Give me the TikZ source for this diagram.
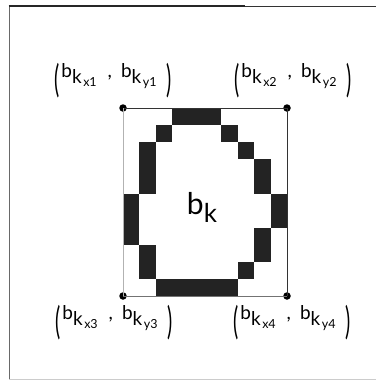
\documentclass[tikz,border=0pt]{standalone}
\usepackage{fontspec}
\setmainfont{Lato}
\usepackage{graphicx}
\usetikzlibrary{positioning}
\definecolor{cellink}{RGB}{35,35,35}
\definecolor{framegray}{RGB}{105,105,105}
\newcommand{\pixcell}[2]{\fill[cellink] ({123+#1*16.4},{108+#2*17.1}) rectangle ++(16.4,17.1);}
\newcommand{\subidx}[1]{b\raisebox{-5.5pt}{k\raisebox{-3pt}{\fontsize{12.5}{12.5}\selectfont\hspace{1.5pt}#1}}}
\newcommand{\tallparen}[1]{\raisebox{-15pt}{\scalebox{0.75}[1.45]{\fontsize{26}{26}\selectfont #1}}}
\newcommand{\cornerlabel}[2]{\tallparen{(}\hspace{2pt}\subidx{#1}\hspace{11pt},\hspace{9pt}\subidx{#2}\hspace{10pt}\tallparen{)}}

\begin{document}
\begin{tikzpicture}[x=1pt,y=-1pt,
	dot/.style={circle,fill=black,inner sep=0pt,minimum size=7.5pt},
	lbl/.style={font=\fontsize{19}{19}\selectfont,inner sep=0pt}]
	\useasboundingbox (0,0) rectangle (376,383);
	% frame of the figure
	\draw[framegray,line width=1pt] (9,379) -- (9,6);
	\draw[black!85,line width=1.3pt] (8.5,6) -- (245,6);
	\draw[black!80,line width=1.1pt] (245,6.2) -- (376,6.2);
	\draw[black!20,line width=0.8pt] (9,379) -- (376,379);
	% pixels of the blob
	\pixcell{3}{0} \pixcell{4}{0} \pixcell{5}{0}
	\pixcell{2}{1} \pixcell{6}{1}
	\pixcell{1}{2} \pixcell{7}{2}
	\pixcell{1}{3} \pixcell{8}{3}
	\pixcell{1}{4} \pixcell{8}{4}
	\pixcell{0}{5} \pixcell{9}{5}
	\pixcell{0}{6} \pixcell{9}{6}
	\pixcell{0}{7} \pixcell{8}{7}
	\pixcell{1}{8} \pixcell{8}{8}
	\pixcell{1}{9} \pixcell{7}{9}
	\pixcell{2}{10} \pixcell{3}{10} \pixcell{4}{10} \pixcell{5}{10} \pixcell{6}{10}
	% bounding box corners
	\node[dot] (c1) at (123,108) {};
	\node[dot] (c2) at (287,108) {};
	\node[dot] (c3) at (123,296) {};
	\node[dot] (c4) at (287,296) {};
	\draw[black!80,line width=0.8pt] (c1.center) -- (c2.center) -- (c4.center);
	\draw[black!55,line width=0.7pt] (c4.center) -- (c3.center);
	\draw[black!30,line width=0.7pt] (c3.center) -- (c1.center);
	\node[lbl] (bk) at (202,207) {\fontsize{30}{30}\selectfont b\raisebox{-8pt}{\fontsize{26}{26}\selectfont k}};
	% corner labels
	\node[lbl] (l1) at (113,81) {\cornerlabel{x1}{y1}};
	\node[lbl] (l2) at (293,81) {\cornerlabel{x2}{y2}};
	\node[lbl] (l3) at (114,323) {\cornerlabel{x3}{y3}};
	\node[lbl] (l4) at (292,323) {\cornerlabel{x4}{y4}};
\end{tikzpicture}
\end{document}
